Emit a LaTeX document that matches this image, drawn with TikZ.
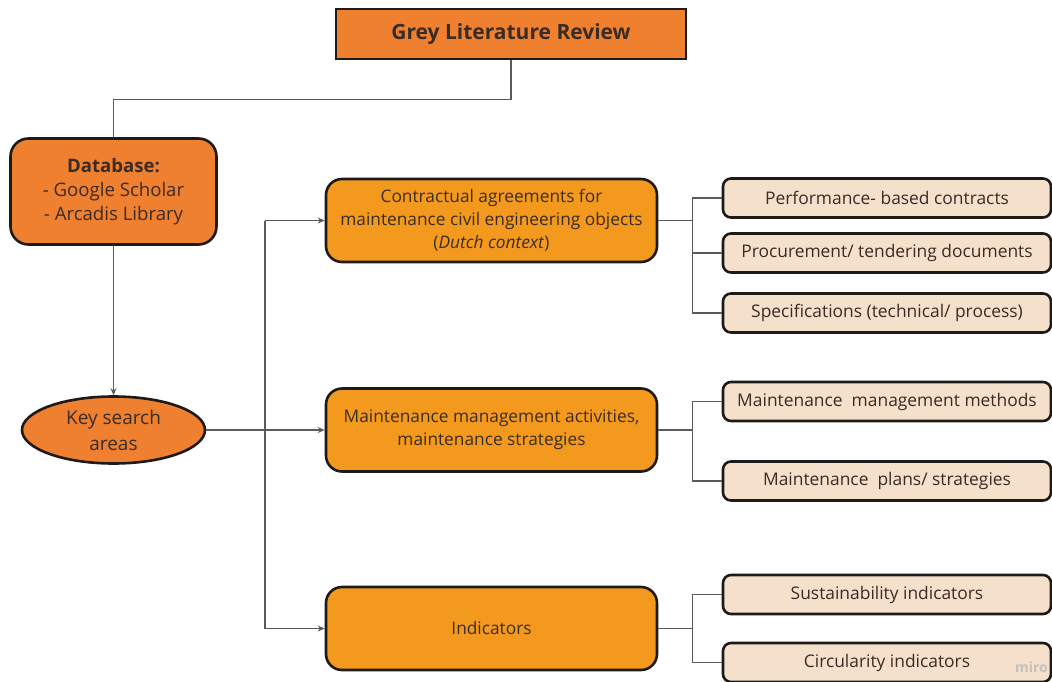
\documentclass[tikz,border=0pt]{standalone}
\usepackage{fontspec}
\setmainfont{Open Sans}
\usetikzlibrary{shapes.geometric,arrows.meta}

\definecolor{edgecol}{HTML}{1E1A17}
\definecolor{txtcol}{HTML}{3A2C24}
\definecolor{orangeA}{HTML}{EE8030}
\definecolor{orangeB}{HTML}{F39A1E}
\definecolor{beige}{HTML}{F5E0CB}
\definecolor{wirecol}{HTML}{5A5A5A}
\definecolor{markcol}{HTML}{C4C0BC}

\tikzset{
  box/.style={draw=edgecol, line width=2.6pt, text=txtcol, align=center, inner sep=0pt},
  topbox/.style={box, rectangle, fill=orangeA, minimum width=350pt, minimum height=50pt,
    font=\fontsize{21}{25}\selectfont\bfseries},
  dbbox/.style={box, rectangle, rounded corners=18pt, fill=orangeA, minimum width=206pt,
    minimum height=106pt, font=\fontsize{18.6}{24}\selectfont},
  keyell/.style={box, ellipse, fill=orangeA, minimum width=183pt, minimum height=67pt,
    font=\fontsize{19}{26}\selectfont},
  midbox/.style={box, rectangle, rounded corners=16pt, fill=orangeB, minimum width=331pt,
    minimum height=83pt, font=\fontsize{17.3}{23}\selectfont},
  leafbox/.style={box, rectangle, rounded corners=8pt, fill=beige, minimum width=328pt,
    minimum height=39pt, font=\fontsize{17.4}{20}\selectfont},
  wire/.style={draw=wirecol, line width=1.1pt},
  arrowwire/.style={wire, -{Stealth[length=7pt,width=6pt]}},
}

\begin{document}
\begin{tikzpicture}[x=1pt, y=-1pt]
  \useasboundingbox (0,0) rectangle (1052,682);

  % main boxes
  \node[topbox] (top) at (511,34) {Grey Literature Review};
  \node[dbbox] (db) at (113.5,191.5) {\textbf{Database:}\\- Google Scholar\\- Arcadis Library};
  \node[keyell] (key) at (113.5,430) {Key search\\areas};

  \node[midbox] (m1) at (491.5,220.5) {Contractual agreements for\\maintenance civil engineering objects\\(\textit{Dutch context})};
  \node[midbox] (m2) at (491.5,430) {Maintenance management activities,\\maintenance strategies};
  \node[midbox] (m3) at (491.5,628.5) {Indicators};

  % leaf boxes
  \node[leafbox] (l1) at (887,198) {Performance- based contracts};
  \node[leafbox] (l2) at (887,253) {Procurement/ tendering documents};
  \node[leafbox] (l3) at (887,313) {Specifications (technical/ process)};
  \node[leafbox] (l4) at (887,401.5) {Maintenance\ \ management methods};
  \node[leafbox] (l5) at (887,481) {Maintenance\ \ plans/ strategies};
  \node[leafbox] (l6) at (887,594.5) {Sustainability indicators};
  \node[leafbox] (l7) at (887,662.5) {Circularity indicators};

  % connectors
  \draw[wire] (top.south) -- ++(0,39) -| (db.north);
  \draw[arrowwire] (db.south) -- (key.north);
  \draw[arrowwire] (key.east) -- (m2.west);

  \coordinate (busT) at (265,220.5);
  \coordinate (busB) at (265,628.5);
  \draw[wire] (busT) -- (busB);
  \draw[arrowwire] (busT) -- (m1.west);
  \draw[arrowwire] (busB) -- (m3.west);

  \draw[wire] (m1.east) -- ++(34,0) coordinate (j1);
  \draw[wire] (j1) |- (l1.west);
  \draw[wire] (j1) |- (l2.west);
  \draw[wire] (j1) |- (l3.west);

  \draw[wire] (m2.east) -- ++(34,0) coordinate (j2);
  \draw[wire] (j2) |- (l4.west);
  \draw[wire] (j2) |- (l5.west);

  \draw[wire] (m3.east) -- ++(34,0) coordinate (j3);
  \draw[wire] (j3) |- (l6.west);
  \draw[wire] (j3) |- (l7.west);

  % watermark
  \node[text=markcol, font=\fontsize{14}{14}\selectfont\bfseries, anchor=east, inner sep=0pt] (mark) at (1048,667) {miro};
\end{tikzpicture}
\end{document}
